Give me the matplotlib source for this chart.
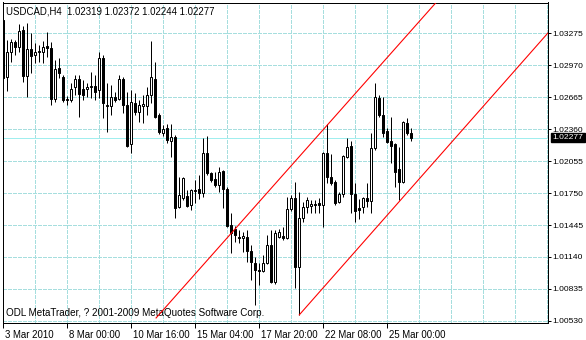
import numpy as np
import matplotlib
matplotlib.use('Agg')
import matplotlib.pyplot as plt
from matplotlib.ticker import MultipleLocator
import matplotlib.transforms as mtransforms

# USDCAD H4 candles (oldest first)
opens = [1.03399, 1.02856, 1.03094, 1.03190, 1.03142, 1.03304, 1.02866, 1.03123, 1.03066, 1.03094,
         1.03094, 1.03152, 1.03133, 1.02647, 1.02942, 1.02856, 1.02637, 1.02637, 1.02761, 1.02837,
         1.02742, 1.02742, 1.02761, 1.02770, 1.02732, 1.03037, 1.02580, 1.02580, 1.02666, 1.02647,
         1.02837, 1.02589, 1.02218, 1.02608, 1.02523, 1.02580, 1.02580, 1.02685, 1.02837, 1.02494,
         1.02323, 1.02370, 1.02246, 1.02284, 1.01617, 1.01703, 1.01722, 1.01636, 1.01770, 1.01789,
         1.01751, 1.02132, 1.01941, 1.01884, 1.01827, 1.01960, 1.01789, 1.01446, 1.01408, 1.01331,
         1.01322, 1.01331, 1.01198, 1.01084, 1.01017, 1.01007, 1.01084, 1.01255, 1.00903, 1.01331,
         1.01341, 1.01322, 1.01598, 1.01703, 1.01045, 1.01512, 1.01617, 1.01627, 1.01646, 1.01655,
         1.01636, 1.02132, 1.01903, 1.01856, 1.01665, 1.01741, 1.02094, 1.02199, 1.01741, 1.01608,
         1.01617, 1.01703, 1.01674, 1.02180, 1.02656, 1.02494, 1.02342, 1.02246, 1.02218, 1.01979,
         1.01856, 1.02418, 1.02319]
highs = [1.03409, 1.03209, 1.03218, 1.03209, 1.03361, 1.03342, 1.03371, 1.03276, 1.03180, 1.03161,
         1.03199, 1.03285, 1.03190, 1.03018, 1.03037, 1.02875, 1.02675, 1.02799, 1.02875, 1.02875,
         1.02828, 1.02799, 1.02904, 1.02875, 1.03094, 1.03066, 1.02799, 1.02780, 1.02713, 1.02875,
         1.02856, 1.02713, 1.02732, 1.02704, 1.02637, 1.02685, 1.02761, 1.03199, 1.02999, 1.02513,
         1.02399, 1.02408, 1.02408, 1.02303, 1.01903, 1.01903, 1.01779, 1.01789, 1.01875, 1.01922,
         1.02275, 1.02294, 1.01951, 1.01951, 1.01998, 1.01970, 1.01808, 1.01560, 1.01436, 1.01398,
         1.01379, 1.01398, 1.01255, 1.01141, 1.01084, 1.01160, 1.01350, 1.01398, 1.01398, 1.01408,
         1.01427, 1.01713, 1.01732, 1.01856, 1.01760, 1.01665, 1.01713, 1.01684, 1.01684, 1.01703,
         1.02141, 1.02408, 1.02122, 1.01875, 1.01760, 1.02113, 1.02275, 1.02246, 1.01846, 1.01694,
         1.01713, 1.01846, 1.02323, 1.02799, 1.02685, 1.02666, 1.02370, 1.02475, 1.02227, 1.02189,
         1.02437, 1.02465, 1.02372]
lows = [1.02828, 1.02723, 1.02999, 1.03066, 1.03094, 1.02809, 1.02666, 1.02894, 1.02990, 1.02999,
        1.02990, 1.03047, 1.02589, 1.02618, 1.02847, 1.02618, 1.02589, 1.02618, 1.02685, 1.02475,
        1.02637, 1.02666, 1.02656, 1.02637, 1.02656, 1.02465, 1.02332, 1.02494, 1.02618, 1.02637,
        1.02513, 1.02189, 1.02132, 1.02494, 1.02427, 1.02418, 1.02494, 1.02608, 1.02465, 1.02313,
        1.02294, 1.02227, 1.02094, 1.01512, 1.01608, 1.01684, 1.01617, 1.01589, 1.01655, 1.01694,
        1.01713, 1.01922, 1.01856, 1.01808, 1.01760, 1.01608, 1.01427, 1.01179, 1.01284, 1.01274,
        1.01188, 1.01093, 1.00922, 1.00683, 1.00874, 1.00998, 1.01074, 1.00893, 1.00883, 1.01322,
        1.01303, 1.01312, 1.01579, 1.00845, 1.00588, 1.01474, 1.01560, 1.01560, 1.01560, 1.01560,
        1.01427, 1.01846, 1.01827, 1.01636, 1.01655, 1.01713, 1.02084, 1.01560, 1.01474, 1.01503,
        1.01560, 1.01617, 1.01560, 1.02160, 1.02475, 1.02284, 1.02227, 1.02037, 1.01808, 1.01684,
        1.01846, 1.02303, 1.02244]
closes = [1.02847, 1.03094, 1.03190, 1.03142, 1.03295, 1.02866, 1.03123, 1.03056, 1.03094, 1.03104,
          1.03142, 1.03133, 1.02647, 1.02932, 1.02894, 1.02637, 1.02647, 1.02742, 1.02837, 1.02694,
          1.02685, 1.02761, 1.02770, 1.02713, 1.03037, 1.02608, 1.02589, 1.02666, 1.02637, 1.02837,
          1.02589, 1.02199, 1.02618, 1.02523, 1.02589, 1.02599, 1.02685, 1.02856, 1.02475, 1.02332,
          1.02361, 1.02256, 1.02284, 1.01608, 1.01732, 1.01894, 1.01627, 1.01779, 1.01779, 1.01751,
          1.02132, 1.01941, 1.01875, 1.01827, 1.01951, 1.01789, 1.01436, 1.01370, 1.01350, 1.01325,
          1.01341, 1.01198, 1.01093, 1.01017, 1.01007, 1.01084, 1.01255, 1.00903, 1.01370, 1.01379,
          1.01322, 1.01598, 1.01703, 1.01045, 1.01512, 1.01617, 1.01684, 1.01646, 1.01636, 1.01636,
          1.02132, 1.01903, 1.01846, 1.01655, 1.01741, 1.02103, 1.02189, 1.01741, 1.01579, 1.01589,
          1.01703, 1.01674, 1.02180, 1.02666, 1.02494, 1.02323, 1.02237, 1.02199, 1.01951, 1.01856,
          1.02427, 1.02323, 1.02277]

# equidistant channel (bar index, price)
upper_x = [38.2, 108.4]
upper_y = [1.00559, 1.03574]
lower_x = [74, 136.2]
lower_y = [1.00588, 1.03276]

price_ticks = [1.00530, 1.00835, 1.01140, 1.01445, 1.01750, 1.02055, 1.02360, 1.02665, 1.02970, 1.03275]
date_pos = [0, 16, 32, 48, 64, 80, 96]
date_labels = ['3 Mar 2010', '8 Mar 00:00', '10 Mar 16:00', '15 Mar 04:00',
               '17 Mar 20:00', '22 Mar 08:00', '25 Mar 00:00']

header = 'USDCAD,H4  1.02319 1.02372 1.02244 1.02277'
footer = 'ODL MetaTrader, ? 2001-2009 MetaQuotes Software Corp.'

plt.rcParams['font.family'] = ['Liberation Sans', 'DejaVu Sans']
plt.rcParams['font.size'] = 6.8
px = 0.72  # one pixel in points at dpi 100

fig = plt.figure(figsize=(5.86, 3.40), dpi=100)
ax = fig.add_axes([2.5/586, (340-323.3)/340, (548-2.5)/586, (323.3-2.5)/340])

grid_col = '#a6dede'
ax.set_xlim(-0.2, 136.2)
ax.set_ylim(1.00508, 1.03566)

ax.set_xticks(date_pos)
ax.set_xticklabels(date_labels)
ax.xaxis.set_minor_locator(MultipleLocator(8))
ax.set_yticks(price_ticks)
ax.set_yticklabels(['%.5f' % p for p in price_ticks])
ax.yaxis.tick_right()
ax.grid(True, which='both', color=grid_col, linestyle=(0, (3, 2)), linewidth=px, antialiased=False)
ax.set_axisbelow(True)
ax.tick_params(axis='x', which='major', length=5*px, width=px, pad=1, labelsize=6.9)
ax.tick_params(axis='x', which='minor', length=0)
ax.tick_params(axis='y', length=3*px, width=px, pad=1.2, labelsize=6.1)
for lab in ax.get_xticklabels():
    lab.set_horizontalalignment('left')
    lab.set_transform(lab.get_transform() + mtransforms.ScaledTranslation(2/100, 0, fig.dpi_scale_trans))
for s in ax.spines.values():
    s.set_linewidth(px)

# bid line
ax.axhline(closes[-1], color='#a0eeee', linewidth=px, antialiased=False, zorder=1.5)

x = np.arange(len(opens))
o = np.array(opens); c = np.array(closes)
ax.vlines(x, lows, highs, color='black', linewidth=px, zorder=2)
up = c >= o
ax.bar(x[up], (c-o)[up], bottom=o[up], width=0.55, color='white', edgecolor='black', linewidth=px, zorder=3)
ax.bar(x[~up], (o-c)[~up], bottom=c[~up], width=0.55, color='black', edgecolor='black', linewidth=px, zorder=3)

ax.plot(upper_x, upper_y, color='red', linewidth=px*1.1, zorder=4, clip_on=True)
ax.plot(lower_x, lower_y, color='red', linewidth=px*1.1, zorder=4, clip_on=True)

ax.text(4/545.5, 1 - 9.5/320.8, header, transform=ax.transAxes, ha='left', va='center', fontsize=6.9)
ax.text(4/545.5, 1 - 311/320.8, footer, transform=ax.transAxes, ha='left', va='center', fontsize=7.1)

ax.annotate('%.5f' % closes[-1], xy=(1, closes[-1]), xycoords=('axes fraction', 'data'),
            xytext=(3.2, 0), textcoords='offset points', ha='left', va='center', color='white',
            fontsize=6.1, bbox=dict(boxstyle='square,pad=0.15', fc='black', ec='black'), zorder=10,
            annotation_clip=False)

fig.savefig('out.png', dpi=100)
